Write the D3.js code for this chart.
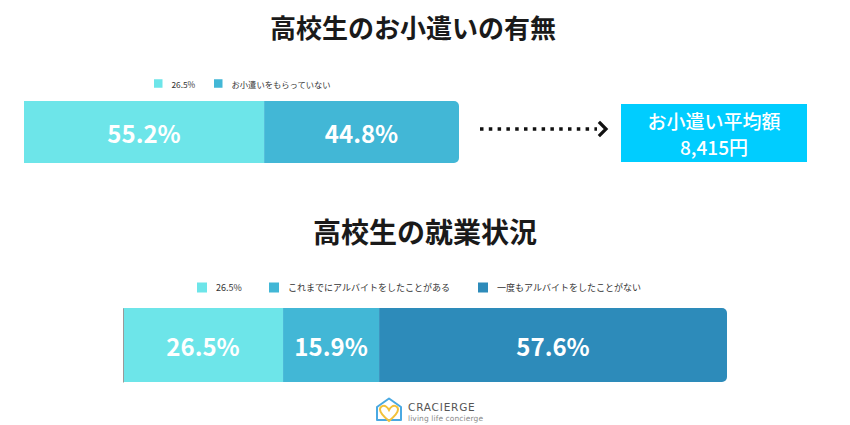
<!DOCTYPE html>
<html><head><meta charset="utf-8">
<script src="https://cdn.jsdelivr.net/npm/d3@7"></script>
<style>
html,body{margin:0;padding:0;background:#fff;}
svg{display:block;font-family:"Noto Sans CJK JP","Noto Sans",sans-serif;}
</style></head>
<body>
<svg id="c" width="850" height="425"></svg>
<script>
// ---- data ----
const title1 = "高校生のお小遣いの有無";
const allowanceCategories = ["26.5%", "お小遣いをもらっていない"];
const allowanceValues = [55.2, 44.8];
const averageLabel = "お小遣い平均額";
const averageValue = "8,415円";

const title2 = "高校生の就業状況";
const workCategories = ["26.5%", "これまでにアルバイトをしたことがある", "一度もアルバイトをしたことがない"];
const workValues = [26.5, 15.9, 57.6];

const palette = ["#6de5e9", "#42b7d6", "#2d8bba"];

const svg = d3.select("#c");
const defs = svg.append("defs");

function stack(values){
  let acc = 0;
  return values.map((v,i)=>{ const d={i, v, x0:acc, x1:acc+v}; acc+=v; return d; });
}

function drawBar(id, values, x, y0, h){
  const g = svg.append("g");
  const [r0, r1] = x.range();
  defs.append("clipPath").attr("id", id).append("rect")
    .attr("x", r0 - 10).attr("y", y0).attr("width", r1 - r0 + 10).attr("height", h).attr("rx", 5);
  const segs = stack(values);
  g.append("g").attr("clip-path", `url(#${id})`).selectAll("rect").data(segs).join("rect")
    .attr("x", d => x(d.x0)).attr("y", y0)
    .attr("width", d => x(d.x1) - x(d.x0)).attr("height", h)
    .attr("fill", d => palette[d.i]);
  g.selectAll("text").data(segs).join("text")
    .attr("x", d => (x(d.x0) + x(d.x1)) / 2).attr("y", y0 + h/2)
    .attr("text-anchor", "middle").attr("dominant-baseline", "central")
    .attr("fill", "#fff").attr("font-size", 24).attr("font-weight", 600)
    .text(d => d.v.toFixed(1) + "%");
  return g;
}

function drawLegend(cats, xs, y, sq, fs){
  const g = svg.append("g");
  const items = g.selectAll("g").data(cats).join("g")
    .attr("transform", (d,i) => `translate(${xs[i]},${y})`);
  items.append("rect").attr("x", 0).attr("y", -sq/2).attr("width", sq).attr("height", sq)
    .attr("fill", (d,i) => palette[i]);
  items.append("text").attr("x", sq + 9).attr("y", 0).attr("dominant-baseline", "central")
    .attr("font-size", fs).attr("fill", "#333").text(d => d);
}

// ---- top section ----
svg.append("text").attr("x", 413).attr("y", 26).attr("text-anchor", "middle")
  .attr("dominant-baseline", "central").attr("font-size", 26).attr("font-weight", 700)
  .attr("fill", "#1a1a1a").text(title1);

drawLegend(allowanceCategories, [154, 214], 83.5, 8.5, 8.3);

const x1 = d3.scaleLinear().domain([0, 100]).range([24, 459]);
drawBar("clipTop", allowanceValues, x1, 101, 62);

// dotted arrow
svg.append("line").attr("x1", 480).attr("x2", 597).attr("y1", 129).attr("y2", 129)
  .attr("stroke", "#111").attr("stroke-width", 3.5).attr("stroke-dasharray", "3.5,5.3");
svg.append("polyline").attr("points", "600,123 606,129 600,135")
  .attr("fill", "none").attr("stroke", "#111").attr("stroke-width", 3.2)
  .attr("stroke-linejoin", "miter").attr("stroke-linecap", "square");

// average box
svg.append("rect").attr("x", 621).attr("y", 104).attr("width", 186).attr("height", 58).attr("fill", "#00cdff");
svg.append("text").attr("x", 714).attr("y", 120).attr("text-anchor", "middle")
  .attr("dominant-baseline", "central").attr("font-size", 19).attr("font-weight", 500)
  .attr("fill", "#fff").text(averageLabel);
svg.append("text").attr("x", 714).attr("y", 146).attr("text-anchor", "middle")
  .attr("dominant-baseline", "central").attr("font-size", 19).attr("font-weight", 500)
  .attr("fill", "#fff").text(averageValue);

// ---- bottom section ----
svg.append("text").attr("x", 425).attr("y", 231).attr("text-anchor", "middle")
  .attr("dominant-baseline", "central").attr("font-size", 28).attr("font-weight", 700)
  .attr("fill", "#1a1a1a").text(title2);

drawLegend(workCategories, [197, 269, 478], 287.5, 10, 9);

const x2 = d3.scaleLinear().domain([0, 100]).range([123, 727]);
drawBar("clipBottom", workValues, x2, 308, 74);
svg.append("g").attr("transform", "translate(123,0)")
  .call(d3.axisLeft(d3.scaleLinear().range([308, 382])).ticks(0).tickSize(0).tickFormat(""))
  .call(g => g.select(".domain").attr("stroke", "#9a9a9a"));

// ---- logo ----
const logo = svg.append("g");
logo.append("path").attr("d", "M377,420 L377,407 L389,398.5 L401,407 L401,420 Z")
  .attr("fill", "none").attr("stroke", "#4aa9e2").attr("stroke-width", 2).attr("stroke-linejoin", "round");
logo.append("path").attr("d", "M389,421 C383,416 380,413 380,409.5 C380,406 384,405 386,406.5 C387.5,407.5 388.5,409 389,410 C389.5,409 390.5,407.5 392,406.5 C394,405 398,406 398,409.5 C398,413 395,416 389,421 Z")
  .attr("fill", "none").attr("stroke", "#f3c13a").attr("stroke-width", 2);
logo.append("text").attr("x", 408).attr("y", 411)
  .attr("font-size", 10.5).attr("font-family", "DejaVu Sans, sans-serif").attr("letter-spacing", 0.8)
  .attr("fill", "#555").text("CRACIERGE");
logo.append("text").attr("x", 408).attr("y", 421)
  .attr("font-size", 7.5).attr("font-family", "DejaVu Sans, sans-serif").attr("fill", "#888").attr("letter-spacing", 0.1).text("living life concierge");
</script>
</body></html>
